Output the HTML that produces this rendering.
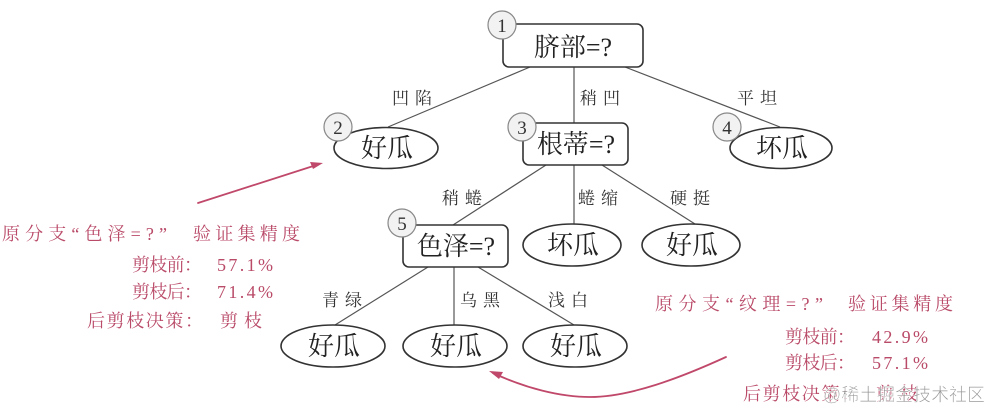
<!DOCTYPE html>
<html><head><meta charset="utf-8">
<style>
html,body{margin:0;padding:0;background:#fff;}
svg{display:block;}
.n{font-family:"Liberation Serif","Noto Serif CJK SC",serif;font-size:26px;fill:#222;}
.e{font-family:"Liberation Serif","Noto Serif CJK SC",serif;font-size:17px;fill:#333;}
.c{font-family:"Liberation Serif","Noto Serif CJK SC",serif;font-size:19px;fill:#333;}
.r{font-family:"Liberation Serif","Noto Serif CJK SC",serif;font-size:18px;fill:#b94a68;}
.w{font-family:"Liberation Sans","Noto Sans CJK SC",sans-serif;font-size:18px;fill:#8a8a8a;}
</style></head>
<body>
<svg width="999" height="419" viewBox="0 0 999 419" xmlns="http://www.w3.org/2000/svg">
<rect width="999" height="419" fill="#fff"/>
<!-- edges -->
<g stroke="#555" stroke-width="1.2" fill="none">
<line x1="530" y1="67" x2="388" y2="127"/>
<line x1="574" y1="67" x2="574" y2="123"/>
<line x1="625" y1="67" x2="780" y2="127"/>
<line x1="546" y1="165" x2="453" y2="225"/>
<line x1="574" y1="165" x2="574" y2="224"/>
<line x1="602" y1="165" x2="695" y2="224"/>
<line x1="428" y1="267" x2="335" y2="325"/>
<line x1="454" y1="267" x2="454" y2="325"/>
<line x1="478" y1="267" x2="574" y2="325"/>
</g>
<!-- boxes -->
<g stroke="#333" stroke-width="1.6" fill="#fff">
<rect x="503" y="24" width="140" height="43" rx="6"/>
<rect x="523" y="123" width="105" height="42" rx="6"/>
<rect x="403" y="225" width="105" height="42" rx="6"/>
<ellipse cx="386" cy="148" rx="52" ry="20.5"/>
<ellipse cx="781" cy="148" rx="51" ry="20.5"/>
<ellipse cx="572" cy="245" rx="49" ry="21"/>
<ellipse cx="691" cy="245" rx="49" ry="21"/>
<ellipse cx="333" cy="346" rx="52" ry="21"/>
<ellipse cx="455" cy="346" rx="52" ry="21"/>
<ellipse cx="575" cy="346" rx="52" ry="21"/>
</g>
<!-- node texts -->
<g class="n" text-anchor="middle">
<text x="573" y="56">脐部=?</text>
<text x="576" y="153">根蒂=?</text>
<text x="456" y="255">色泽=?</text>
<text x="387" y="157">好瓜</text>
<text x="782" y="157">坏瓜</text>
<text x="573" y="254">坏瓜</text>
<text x="692" y="254">好瓜</text>
<text x="334" y="355">好瓜</text>
<text x="456" y="355">好瓜</text>
<text x="576" y="355">好瓜</text>
</g>
<!-- number circles -->
<g stroke="#888" stroke-width="1.2" fill="#f2f2f2">
<circle cx="502" cy="25" r="14"/>
<circle cx="338" cy="127" r="14"/>
<circle cx="522" cy="127" r="14"/>
<circle cx="727" cy="127" r="14"/>
<circle cx="402" cy="223" r="14"/>
</g>
<g class="c" text-anchor="middle">
<text x="502" y="32">1</text>
<text x="338" y="134">2</text>
<text x="522" y="134">3</text>
<text x="727" y="134">4</text>
<text x="402" y="230">5</text>
</g>
<!-- edge labels -->
<g class="e" text-anchor="middle">
<text x="412" y="104" textLength="40" lengthAdjust="spacing">凹陷</text>
<text x="600" y="104" textLength="40" lengthAdjust="spacing">稍凹</text>
<text x="757" y="104" textLength="40" lengthAdjust="spacing">平坦</text>
<text x="462" y="204" textLength="40" lengthAdjust="spacing">稍蜷</text>
<text x="598" y="204" textLength="40" lengthAdjust="spacing">蜷缩</text>
<text x="690" y="204" textLength="40" lengthAdjust="spacing">硬挺</text>
<text x="342" y="306" textLength="40" lengthAdjust="spacing">青绿</text>
<text x="480" y="306" textLength="40" lengthAdjust="spacing">乌黑</text>
<text x="568" y="306" textLength="40" lengthAdjust="spacing">浅白</text>
</g>
<!-- red annotations left -->
<g class="r">
<text x="2" y="240" textLength="165" lengthAdjust="spacing">原分支“色泽=?”</text>
<text x="193" y="240" textLength="107" lengthAdjust="spacing">验证集精度</text>
<text x="132" y="271" textLength="70" lengthAdjust="spacing">剪枝前：</text>
<text x="217" y="271" textLength="56" lengthAdjust="spacing">57.1%</text>
<text x="132" y="298" textLength="70" lengthAdjust="spacing">剪枝后：</text>
<text x="217" y="298" textLength="56" lengthAdjust="spacing">71.4%</text>
<text x="87" y="327" textLength="116" lengthAdjust="spacing">后剪枝决策：</text>
<text x="220" y="327" textLength="42" lengthAdjust="spacing">剪枝</text>
</g>
<!-- red annotations right -->
<g class="r">
<text x="655" y="310" textLength="168" lengthAdjust="spacing">原分支“纹理=?”</text>
<text x="848" y="310" textLength="105" lengthAdjust="spacing">验证集精度</text>
<text x="785" y="343" textLength="70" lengthAdjust="spacing">剪枝前：</text>
<text x="872" y="343" textLength="56" lengthAdjust="spacing">42.9%</text>
<text x="785" y="369" textLength="70" lengthAdjust="spacing">剪枝后：</text>
<text x="872" y="369" textLength="56" lengthAdjust="spacing">57.1%</text>
<text x="743" y="400" textLength="116" lengthAdjust="spacing">后剪枝决策：</text>
<text x="876" y="400" textLength="42" lengthAdjust="spacing">剪枝</text>
</g>
<!-- watermark -->
<text class="w" x="823" y="401" textLength="162" lengthAdjust="spacingAndGlyphs" stroke="#fff" stroke-width="0.6" fill-opacity="0.9">@稀土掘金技术社区</text>
<!-- arrows -->
<g stroke="#c0486a" stroke-width="1.8" fill="none" stroke-linecap="round">
<line x1="198" y1="203" x2="318" y2="164.5"/>
<path d="M726,357 C680,378 630,397 590,397 C560,397 525,388 493,373"/>
</g>
<g fill="#c0486a">
<polygon points="323,163 310,162 313,169"/>
<polygon points="489,371 503,372 499,379"/>
</g>
</svg>
</body></html>
